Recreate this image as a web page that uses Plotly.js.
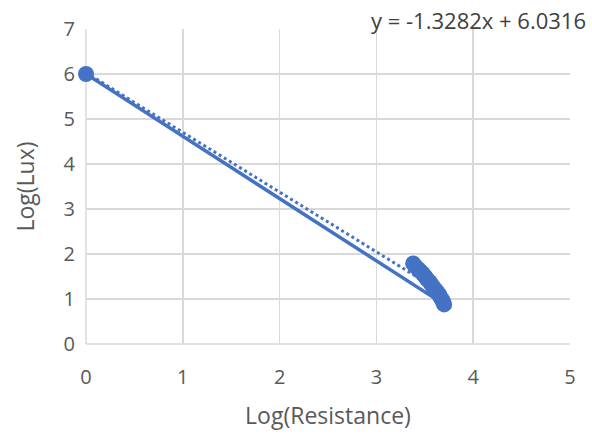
<!DOCTYPE html>
<html>
<head>
<meta charset="utf-8">
<script src="https://cdn.plot.ly/plotly-3.0.1.min.js"></script>
<style>html,body{margin:0;padding:0;background:#fff;}#chart{width:592px;height:436px;}</style>
</head>
<body>
<div id="chart"></div>
<script>
// Data
const logResistance = [0, 3.70, 3.69, 3.68, 3.66, 3.65, 3.63, 3.61, 3.59, 3.57, 3.55, 3.52, 3.50, 3.48, 3.46, 3.43, 3.40, 3.38];
const logLux        = [6.0, 0.88, 0.93, 0.98, 1.04, 1.09, 1.15, 1.20, 1.26, 1.32, 1.38, 1.45, 1.51, 1.56, 1.61, 1.67, 1.73, 1.79];
const trendSlope = -1.3282;
const trendIntercept = 6.0316;
const xTicks = [0, 1, 2, 3, 4, 5];
const yTicks = [0, 1, 2, 3, 4, 5, 6, 7];

const color = '#4472C4';
const xMin = Math.min(...logResistance), xMax = Math.max(...logResistance);
const trendX = [xMin, xMax];
const trendY = trendX.map(v => trendSlope * v + trendIntercept);

const traces = [
  {x: trendX, y: trendY, mode: 'lines', type: 'scatter',
   line: {color: color, width: 3, dash: 'dot'}, hoverinfo: 'skip', cliponaxis: false},
  {x: logResistance, y: logLux, mode: 'lines+markers', type: 'scatter',
   line: {color: color, width: 3.5},
   marker: {color: color, size: 16}, cliponaxis: false}
];

const fam = '"Open Sans", sans-serif';
const tickFont = {family: fam, size: 20, color: '#595959'};
const layout = {
  width: 592, height: 436,
  margin: {l: 86, r: 22, t: 29, b: 92},
  paper_bgcolor: '#fff', plot_bgcolor: '#fff',
  showlegend: false,
  xaxis: {range: [0, 5], tickvals: xTicks, ticktext: xTicks.map(String),
    showgrid: true, gridcolor: '#d9d9d9', gridwidth: 1.5, zeroline: false,
    showline: false, ticks: 'outside', ticklen: 15, tickcolor: 'rgba(0,0,0,0)',
    tickfont: tickFont,
    title: {text: 'Log(Resistance)', font: {family: fam, size: 23, color: '#595959'}, standoff: 18}},
  yaxis: {range: [0, 7], tickvals: yTicks, ticktext: yTicks.map(String),
    showgrid: true, gridcolor: '#d9d9d9', gridwidth: 1.5, zeroline: false,
    showline: false, ticks: 'outside', ticklen: 6, tickcolor: 'rgba(0,0,0,0)',
    tickfont: tickFont,
    title: {text: 'Log(Lux)', font: {family: fam, size: 23, color: '#595959'}, standoff: 22}},
  shapes: [
    {type: 'line', xref: 'paper', yref: 'paper', x0: 0, x1: 0, y0: 0, y1: 1, line: {color: '#d9d9d9', width: 1.5}, layer: 'below'},
    {type: 'line', xref: 'paper', yref: 'paper', x0: 0, x1: 1, y0: 0, y1: 0, line: {color: '#d9d9d9', width: 1.5}, layer: 'below'}
  ],
  annotations: [
    {xref: 'paper', yref: 'paper', x: 1.037, y: 1.03, xanchor: 'right', yanchor: 'middle',
     text: 'y = -1.3282x + 6.0316', showarrow: false,
     font: {family: fam, size: 22, color: '#404040'}}
  ]
};

Plotly.newPlot('chart', traces, layout, {displayModeBar: false, staticPlot: true});
</script>
</body>
</html>
